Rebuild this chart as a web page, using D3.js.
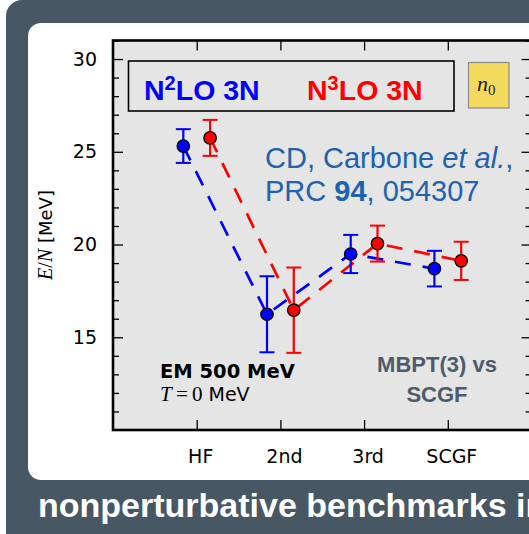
<!DOCTYPE html>
<html>
<head>
<meta charset="utf-8">
<script src="https://cdn.jsdelivr.net/npm/d3@7"></script>
<style>
  html, body { margin: 0; padding: 0; background: #ffffff; }
  svg { display: block; }
</style>
</head>
<body>
<svg id="chart" width="529" height="534"></svg>
<script>
// Energy per particle of neutron matter at each many-body order
const categories = ["HF", "2nd", "3rd", "SCGF"];
const n2loValues = [25.31, 16.24, 19.49, 18.70];
const n2loErrors = [0.91, 2.05, 1.03, 0.96];
const n3loValues = [25.75, 16.46, 20.05, 19.12];
const n3loErrors = [0.97, 2.30, 0.97, 1.03];
const yMajorTicks = [15, 20, 25, 30];
const yMinorTicks = d3.range(10, 32).filter(v => v % 5 !== 0);

const svg = d3.select("#chart");

// slide background and white content panel
svg.append("rect").attr("x", 6).attr("y", 0).attr("width", 560).attr("height", 560)
  .attr("rx", 16).attr("fill", "#475764");
svg.append("rect").attr("x", 28).attr("y", 23).attr("width", 540).attr("height", 457)
  .attr("rx", 13).attr("fill", "#ffffff");

const x = d3.scaleLinear().domain([0, 5]).range([113, 531.5]);
const y = d3.scaleLinear().domain([10, 31]).range([430, 40.5]);

const plotL = x(0), plotR = x(5), plotT = y(31), plotB = y(10);

// plot area
svg.append("rect").attr("x", plotL).attr("y", plotT)
  .attr("width", plotR - plotL).attr("height", plotB - plotT).attr("fill", "#e5e5e5");

const fontSans = "'DejaVu Sans', sans-serif";
const fontSerif = "'Liberation Serif', serif";

// axes with inward ticks
const gLeft = svg.append("g").attr("transform", `translate(${plotL},0)`);
gLeft.call(d3.axisLeft(y).tickValues(yMajorTicks).tickSize(-10).tickPadding(16));
const gLeftMinor = svg.append("g").attr("transform", `translate(${plotL},0)`);
gLeftMinor.call(d3.axisLeft(y).tickValues(yMinorTicks).tickSize(-6).tickFormat(""));
const gRight = svg.append("g").attr("transform", `translate(${plotR},0)`);
gRight.call(d3.axisRight(y).tickValues(yMajorTicks).tickSize(-10).tickFormat(""));
const gRightMinor = svg.append("g").attr("transform", `translate(${plotR},0)`);
gRightMinor.call(d3.axisRight(y).tickValues(yMinorTicks).tickSize(-6).tickFormat(""));
const gBottom = svg.append("g").attr("transform", `translate(0,${plotB})`);
gBottom.call(d3.axisBottom(x).tickValues([1, 2, 3, 4]).tickSize(-10).tickPadding(20)
  .tickFormat(d => categories[d - 1]));
const gTop = svg.append("g").attr("transform", `translate(0,${plotT})`);
gTop.call(d3.axisTop(x).tickValues([1, 2, 3, 4]).tickSize(-10).tickFormat(""));

svg.selectAll(".domain").remove();
svg.selectAll(".tick line").attr("stroke", "#000").attr("stroke-width", 1.3);
svg.selectAll(".tick text").attr("font-family", fontSans).attr("font-size", 19).attr("fill", "#000");
gBottom.selectAll(".tick text").attr("dx", 3.5);

// frame
svg.append("rect").attr("x", plotL).attr("y", plotT)
  .attr("width", plotR - plotL).attr("height", plotB - plotT)
  .attr("fill", "none").attr("stroke", "#000").attr("stroke-width", 2.6);

// y label
const yl = svg.append("text").attr("transform", "translate(52,235) rotate(-90)")
  .attr("text-anchor", "middle").attr("fill", "#000");
yl.append("tspan").attr("font-family", fontSerif).attr("font-size", 20).attr("font-style", "italic").text("E");
yl.append("tspan").attr("font-family", fontSerif).attr("font-size", 20).text("/");
yl.append("tspan").attr("font-family", fontSerif).attr("font-size", 20).attr("font-style", "italic").text("N");
yl.append("tspan").attr("font-family", fontSans).attr("font-size", 18).text(" [MeV]");

// series
const series = [
  { values: n2loValues, errors: n2loErrors, color: "#0000ff", offset: -0.16 },
  { values: n3loValues, errors: n3loErrors, color: "#ff0000", offset: 0.16 }
];

const line = d3.line().x(d => x(d.i + 1 + d.offset)).y(d => y(d.v));

series.forEach(s => {
  const pts = s.values.map((v, i) => ({ v, e: s.errors[i], i, offset: s.offset }));
  svg.append("path").datum(pts).attr("d", line)
    .attr("fill", "none").attr("stroke", s.color).attr("stroke-width", 2.7)
    .attr("stroke-dasharray", "16,12");
  s.pts = pts;
});

series.forEach(s => {
  const g = svg.append("g");
  s.pts.forEach(p => {
    const cx = x(p.i + 1 + p.offset);
    g.append("line").attr("x1", cx).attr("x2", cx).attr("y1", y(p.v - p.e)).attr("y2", y(p.v + p.e))
      .attr("stroke", s.color).attr("stroke-width", 2.2);
    [p.v - p.e, p.v + p.e].forEach(cv => {
      g.append("line").attr("x1", cx - 7.5).attr("x2", cx + 7.5).attr("y1", y(cv)).attr("y2", y(cv))
        .attr("stroke", s.color).attr("stroke-width", 2);
    });
  });
});

series.forEach(s => {
  svg.append("g").selectAll("circle").data(s.pts).join("circle")
    .attr("cx", p => x(p.i + 1 + p.offset)).attr("cy", p => y(p.v)).attr("r", 6.2)
    .attr("fill", s.color).attr("stroke", "#000").attr("stroke-width", 1.3);
});

// legend box
svg.append("rect").attr("x", 128.5).attr("y", 61).attr("width", 325.5).attr("height", 50)
  .attr("fill", "#e5e5e5").attr("stroke", "#000").attr("stroke-width", 1.6);
const legendFont = "'Liberation Sans', Arial, sans-serif";
[["2", "#0000ff", 144], ["3", "#ff0000", 307]].forEach(([sup, col, lx]) => {
  const t = svg.append("text").attr("x", lx).attr("y", 99.5).attr("font-family", legendFont)
    .attr("font-weight", "bold").attr("font-size", 28.5).attr("fill", col);
  t.append("tspan").text("N");
  t.append("tspan").attr("font-size", 20).attr("dy", -10).text(sup);
  t.append("tspan").attr("dy", 10).text("LO 3N");
});

// saturation density tag
svg.append("rect").attr("x", 468.5).attr("y", 62.5).attr("width", 40.5).attr("height", 45.5)
  .attr("fill", "#f4da5c").attr("stroke", "#8a8a8a").attr("stroke-width", 1.2);
const n0 = svg.append("text").attr("x", 477).attr("y", 91).attr("font-family", fontSerif)
  .attr("font-size", 22).attr("fill", "#222");
n0.append("tspan").attr("font-style", "italic").text("n");
n0.append("tspan").attr("font-size", 15).attr("dy", 4).text("0");

// reference
const refColor = "#2062ad";
const r1 = svg.append("text").attr("x", 265).attr("y", 168).attr("font-family", legendFont)
  .attr("font-size", 29).attr("fill", refColor);
r1.append("tspan").text("CD, Carbone ");
r1.append("tspan").attr("font-style", "italic").text("et al.");
r1.append("tspan").text(",");
const r2 = svg.append("text").attr("x", 265).attr("y", 201).attr("font-family", legendFont)
  .attr("font-size", 29).attr("fill", refColor);
r2.append("tspan").text("PRC ");
r2.append("tspan").attr("font-weight", "bold").text("94");
r2.append("tspan").text(", 054307");

// interaction annotation
svg.append("text").attr("x", 160).attr("y", 378).attr("font-family", fontSans)
  .attr("font-weight", "bold").attr("font-size", 19.5).attr("fill", "#000").text("EM 500 MeV");
const tl = svg.append("text").attr("x", 160).attr("y", 401).attr("fill", "#000");
tl.append("tspan").attr("font-family", fontSerif).attr("font-size", 21).attr("font-style", "italic").text("T");
tl.append("tspan").attr("font-family", fontSerif).attr("font-size", 21).text("\u2009=\u20090");
tl.append("tspan").attr("font-family", fontSans).attr("font-size", 19).text(" MeV");

// method annotation
const mColor = "#4d5c6b";
[["MBPT(3) vs", 371.5], ["SCGF", 401.5]].forEach(([txt, ty]) => {
  svg.append("text").attr("x", 437).attr("y", ty).attr("text-anchor", "middle")
    .attr("font-family", legendFont).attr("font-weight", "bold").attr("font-size", 22)
    .attr("fill", mColor).text(txt);
});

// slide caption
svg.append("text").attr("x", 38).attr("y", 517).attr("font-family", legendFont)
  .attr("font-weight", "bold").attr("font-size", 34).attr("fill", "#ffffff")
  .text("nonperturbative benchmarks in");
</script>
</body>
</html>
